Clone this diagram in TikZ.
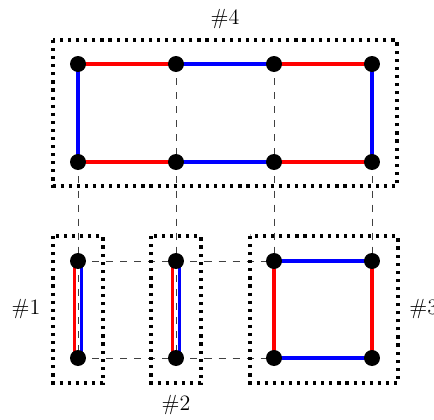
\documentclass[tikz,border=0pt]{standalone}
\begin{document}
\begin{tikzpicture}[x=0.02cm,y=-0.02cm,
  dot/.style={circle,fill=black,inner sep=0pt,minimum size=0.32cm},
  redge/.style={red,line width=1.9pt},
  bedge/.style={blue,line width=1.9pt},
  guide/.style={black!75,line width=0.5pt,dash pattern=on 4pt off 4pt},
  dotbox/.style={line width=1.8pt,dash pattern=on 1.8pt off 2.8pt},
  lab/.style={font=\fontsize{12.5}{15}\selectfont}]
\useasboundingbox (0,0) rectangle (434,420);
% top graph nodes
\coordinate (t1) at (78,64);  \coordinate (t2) at (176,64);
\coordinate (t3) at (274,64); \coordinate (t4) at (372,64);
\coordinate (u1) at (78,162); \coordinate (u2) at (176,162);
\coordinate (u3) at (274,162);\coordinate (u4) at (372,162);
% bottom nodes
\coordinate (p1) at (78,261); \coordinate (q1) at (78,358);
\coordinate (p2) at (176,261);\coordinate (q2) at (176,358);
\coordinate (p3) at (274,261);\coordinate (q3) at (274,358);
\coordinate (p4) at (372,261);\coordinate (q4) at (372,358);
% guides
\foreach \i in {1,2,3,4} \draw[guide] (t\i) -- (q\i);
\draw[guide] (p1) -- (p3);
\draw[guide] (q1) -- (q3);
% dotted boxes
\draw[dotbox] (53,40) rectangle (397,186);
\draw[dotbox] (53,236) rectangle (103,383);
\draw[dotbox] (151,236) rectangle (201,383);
\draw[dotbox] (250,236) rectangle (398,383);
% top edges
\draw[redge] (t1) -- (t2); \draw[bedge] (t2) -- (t3); \draw[redge] (t3) -- (t4);
\draw[redge] (u1) -- (u2); \draw[bedge] (u2) -- (u3); \draw[redge] (u3) -- (u4);
\draw[bedge] (t1) -- (u1); \draw[bedge] (t4) -- (u4);
% #1 and #2
\foreach \i in {1,2} {
  \draw[redge] ([xshift=-2.1pt]p\i) -- ([xshift=-2.1pt]q\i);
  \draw[bedge] ([xshift=2.1pt]p\i) -- ([xshift=2.1pt]q\i);
}
% #3
\draw[bedge] (p3) -- (p4); \draw[bedge] (q3) -- (q4);
\draw[redge] (p3) -- (q3); \draw[redge] (p4) -- (q4);
% dots
\foreach \n in {t1,t2,t3,t4,u1,u2,u3,u4,p1,q1,p2,q2,p3,q3,p4,q4}
  \node[dot] (d\n) at (\n) {};
% labels
\node[lab] (l4) at (225,19) {\#4};
\node[lab] (l1) at (26,309) {\#1};
\node[lab] (l2) at (176,405) {\#2};
\node[lab,anchor=west,inner sep=0pt] (l3) at (409,309) {\#3};
\end{tikzpicture}
\end{document}
